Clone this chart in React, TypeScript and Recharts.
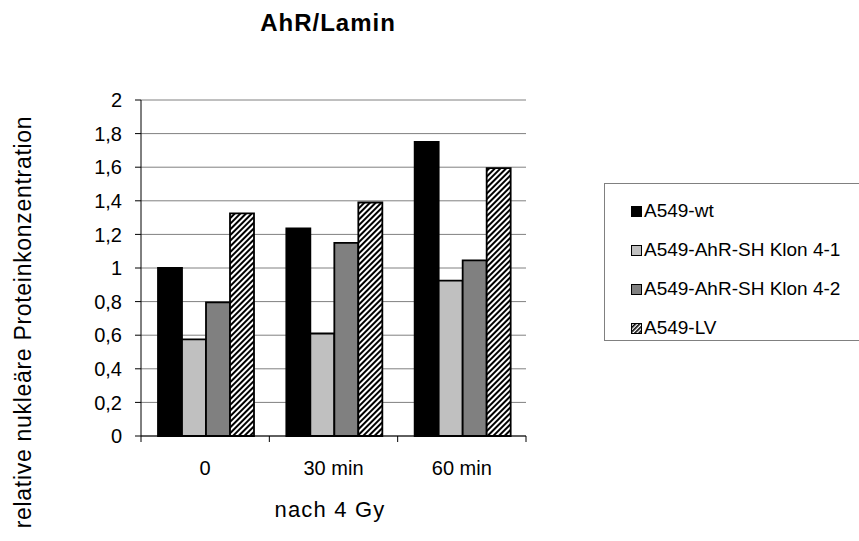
import { BarChart, Bar, XAxis, YAxis, CartesianGrid } from 'recharts';

const categories = ['0', '30 min', '60 min'];
const wt = [1.0, 1.235, 1.75];
const klon41 = [0.575, 0.61, 0.925];
const klon42 = [0.795, 1.15, 1.045];
const lv = [1.325, 1.39, 1.595];
const yTicks = [0, 0.2, 0.4, 0.6, 0.8, 1, 1.2, 1.4, 1.6, 1.8, 2];

const series = [
  { key: 'wt', name: 'A549-wt', fill: '#000000' },
  { key: 'k41', name: 'A549-AhR-SH Klon 4-1', fill: '#c0c0c0' },
  { key: 'k42', name: 'A549-AhR-SH Klon 4-2', fill: '#808080' },
  { key: 'lv', name: 'A549-LV', fill: 'url(#hatch)' },
];

const data = categories.map((c, i) => ({
  cat: c,
  wt: wt[i],
  k41: klon41[i],
  k42: klon42[i],
  lv: lv[i],
}));

const FONT = '"Liberation Sans", Arial, sans-serif';

// tick marks sit on category boundaries, like the original spreadsheet chart
function XTick(props: any) {
  const { x, y, payload, index, width, visibleTicksCount } = props;
  const band = width / visibleTicksCount;
  const top = y - 8;
  return (
    <g>
      <line x1={x - band / 2} x2={x - band / 2} y1={top} y2={top + 6} stroke="#000" />
      {index === visibleTicksCount - 1 && (
        <line x1={x + band / 2} x2={x + band / 2} y1={top} y2={top + 6} stroke="#000" />
      )}
      <text x={x} y={y + 31} textAnchor="middle" fontSize={20} fontFamily={FONT} fill="#000">
        {payload.value}
      </text>
    </g>
  );
}

function Swatch({ fill }: { fill: string }) {
  return (
    <svg width={11} height={11} style={{ marginRight: 2 }}>
      <defs>
        <pattern id="hatchSmall" width="3" height="3" patternUnits="userSpaceOnUse" patternTransform="rotate(45)">
          <rect width="3" height="3" fill="#fff" />
          <rect width="1.6" height="3" fill="#000" />
        </pattern>
      </defs>
      <rect x={0.5} y={0.5} width={10} height={10} fill={fill === 'url(#hatch)' ? 'url(#hatchSmall)' : fill} stroke="#000" />
    </svg>
  );
}

export default function App() {
  return (
    <div style={{ position: 'absolute', left: 0, top: 0, width: 859, height: 541, fontFamily: FONT, background: '#fff' }}>
      <BarChart
        width={859}
        height={541}
        data={data}
        margin={{ top: 100, right: 333, bottom: 65, left: 0 }}
        barCategoryGap={17}
        barGap={0}
      >
        <defs>
          <pattern id="hatch" width="4" height="4" patternUnits="userSpaceOnUse" patternTransform="rotate(45)">
            <rect width="4" height="4" fill="#fff" />
            <rect width="2" height="4" fill="#000" />
          </pattern>
        </defs>
        <CartesianGrid vertical={false} stroke="#808080" />
        <XAxis
          dataKey="cat"
          axisLine={{ stroke: '#000' }}
          tickLine={false}
          tick={<XTick />}
          interval={0}
          height={40}
        />
        <YAxis
          domain={[0, 2]}
          ticks={yTicks}
          width={141}
          axisLine={{ stroke: '#000' }}
          tickLine={{ stroke: '#000' }}
          tickSize={6}
          tickMargin={13}
          tickFormatter={(v: number) => String(v).replace('.', ',')}
          tick={{ fontSize: 20, fill: '#000', fontFamily: FONT }}
        />
        <YAxis
          yAxisId="r"
          orientation="right"
          width={0}
          tick={false}
          tickLine={false}
          axisLine={{ stroke: '#808080' }}
        />
        {series.map((s) => (
          <Bar
            key={s.key}
            dataKey={s.key}
            name={s.name}
            fill={s.fill}
            stroke="#000"
            strokeWidth={1.8}
            isAnimationActive={false}
          />
        ))}
      </BarChart>

      <div style={{ position: 'absolute', left: 228, width: 200, top: 9, textAlign: 'center', fontSize: 24, fontWeight: 'bold', letterSpacing: 1 }}>
        AhR/Lamin
      </div>
      <div style={{ position: 'absolute', left: 180, width: 300, top: 497, textAlign: 'center', fontSize: 22, letterSpacing: 1.2 }}>
        nach 4 Gy
      </div>
      <div
        style={{
          position: 'absolute',
          left: 23,
          top: 322,
          transform: 'translate(-50%, -50%) rotate(-90deg)',
          whiteSpace: 'nowrap',
          fontSize: 23,
          letterSpacing: 0.7,
        }}
      >
        relative nukleäre Proteinkonzentration
      </div>

      <div
        style={{
          position: 'absolute',
          left: 604,
          top: 183,
          width: 260,
          height: 158,
          border: '1px solid #808080',
          boxSizing: 'border-box',
        }}
      >
        {series.map((s, i) => (
          <div
            key={s.key}
            style={{
              position: 'absolute',
              left: 26,
              top: 17 + i * 39,
              height: 20,
              lineHeight: '20px',
              display: 'flex',
              alignItems: 'center',
              fontSize: 19,
              whiteSpace: 'nowrap',
            }}
          >
            <Swatch fill={s.fill} />
            {s.name}
          </div>
        ))}
      </div>
    </div>
  );
}
